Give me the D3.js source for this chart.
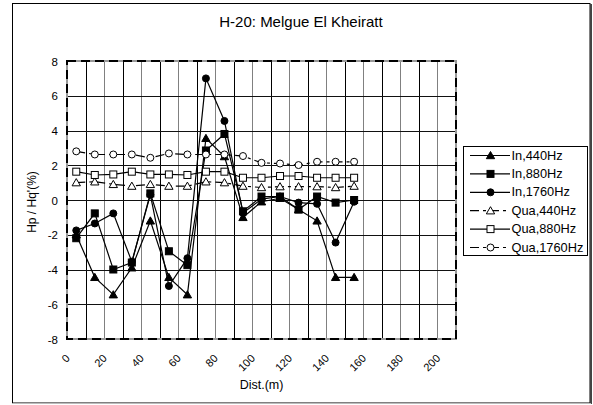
<!DOCTYPE html>
<html><head><meta charset="utf-8">
<script src="https://cdn.jsdelivr.net/npm/d3@7"></script>
<style>body{margin:0;background:#fff;} text{font-family:"Liberation Sans",Arial,sans-serif;fill:#000;}</style>
</head><body>
<svg id="c" width="593" height="405"></svg>
<script>
const dist = [5,15,25,35,45,55,65,75,85,95,105,115,125,135,145,155];
const in440  = [-2.0,-4.45,-5.45,-3.9,-1.2,-4.45,-5.45,3.55,2.5,-1.0,-0.1,0.1,-0.55,-1.2,-4.45,-4.45];
const in880  = [-2.2,-0.77,-4.0,-3.6,0.38,-2.95,-3.75,2.85,3.8,-0.65,0.2,0.2,-0.55,0.2,-0.15,0.0];
const in1760 = [-1.75,-1.35,-0.77,-3.55,0.3,-4.95,-3.35,7.0,4.55,-0.75,0.05,0.2,-0.15,-0.22,-2.45,-0.1];
const qua440 = [1.0,1.05,0.9,0.8,0.9,0.8,0.8,1.05,1.0,0.8,0.72,0.77,0.77,0.77,0.72,0.8];
const qua880 = [1.63,1.44,1.47,1.63,1.47,1.47,1.44,1.63,1.63,1.28,1.28,1.38,1.38,1.28,1.28,1.28];
const qua1760= [2.8,2.62,2.62,2.62,2.43,2.68,2.62,2.62,2.62,2.53,2.14,2.1,2.01,2.2,2.2,2.2];
const seriesNames = ["In,440Hz","In,880Hz","In,1760Hz","Qua,440Hz","Qua,880Hz","Qua,1760Hz"];
const xTicks = [0,20,40,60,80,100,120,140,160,180,200];
const yTicks = [-8,-6,-4,-2,0,2,4,6,8];
const title = "H-20: Melgue El Kheiratt";
const xTitle = "Dist.(m)";
const yTitle = "Hp / Hq'(%)";

const series = [
  {name:seriesNames[0], vals:in440,  shape:"tri", fill:"#000", dash:null},
  {name:seriesNames[1], vals:in880,  shape:"sq",  fill:"#000", dash:null},
  {name:seriesNames[2], vals:in1760, shape:"cir", fill:"#000", dash:null},
  {name:seriesNames[3], vals:qua440, shape:"tri", fill:"#fff", dash:"9,4,3,4"},
  {name:seriesNames[4], vals:qua880, shape:"sq",  fill:"#fff", dash:null},
  {name:seriesNames[5], vals:qua1760,shape:"cir", fill:"#fff", dash:"9,4,3,4"}
];

const svg = d3.select("#c");
const L=67, R=456, T=61, B=339;
const x = d3.scaleLinear().domain([0,210]).range([L,R]);
const y = d3.scaleLinear().domain([-8,8]).range([B,T]);

// outer frame
svg.append("rect").attr("x",12.5).attr("y",3.5).attr("width",577.5).attr("height",399.5)
  .attr("fill","none").attr("stroke","#000").attr("stroke-width",1);
svg.append("line").attr("x1",591).attr("x2",591).attr("y1",4).attr("y2",404).attr("stroke","#444").attr("stroke-width",2);
svg.append("line").attr("x1",12).attr("x2",591).attr("y1",403.5).attr("y2",403.5).attr("stroke","#bbb").attr("stroke-width",1);

// title
svg.append("text").attr("x",301).attr("y",26.5).attr("text-anchor","middle").attr("font-size",15).text(title);

// gridlines
const g = svg.append("g");
d3.range(10,210,10).forEach(v=>{
  const xv = Math.round(x(v))+0.5;
  g.append("line").attr("x1",xv).attr("x2",xv).attr("y1",T).attr("y2",B)
   .attr("stroke", (v/10)%2===1 ? "#000" : "#808080").attr("stroke-width",1);
});
yTicks.forEach(v=>{
  if (v===-8||v===8) return;
  const yv = Math.round(y(v))+0.5;
  g.append("line").attr("x1",L).attr("x2",R).attr("y1",yv).attr("y2",yv).attr("stroke","#111").attr("stroke-width",1);
});
// plot border
svg.append("rect").attr("x",L).attr("y",T).attr("width",R-L).attr("height",B-T)
  .attr("fill","none").attr("stroke","#999").attr("stroke-width",2);
svg.append("rect").attr("x",L).attr("y",T).attr("width",R-L).attr("height",B-T)
  .attr("fill","none").attr("stroke","#000").attr("stroke-width",2).attr("stroke-dasharray","9,5");

// axes (labels only via d3 axes)
const yAxis = d3.axisLeft(y).tickValues(yTicks).tickSize(0).tickPadding(9).tickFormat(d=>String(d).replace("−","-"));
const ya = svg.append("g").attr("transform",`translate(${L},0)`).call(yAxis);
ya.select(".domain").remove();
ya.selectAll("text").attr("font-size",11.5).attr("font-family","Liberation Sans, Arial, sans-serif").attr("fill","#000").attr("dy","0.36em");

const xAxis = d3.axisBottom(x).tickValues(xTicks).tickSize(0).tickFormat(d=>String(d));
const xa = svg.append("g").attr("transform",`translate(0,${B})`).call(xAxis);
xa.select(".domain").remove();
xa.selectAll("text").attr("font-size",11).attr("font-family","Liberation Sans, Arial, sans-serif").attr("fill","#000")
  .attr("text-anchor","end").attr("dy",null).attr("y",null)
  .attr("transform","translate(3,20) rotate(-45)");

svg.append("text").attr("x",(L+R)/2).attr("y",389).attr("text-anchor","middle").attr("font-size",12.5).text(xTitle);
svg.append("text").attr("transform","translate(36,202) rotate(-90)").attr("text-anchor","middle").attr("font-size",12).text(yTitle);

// markers
function marker(sel, shape, fill, cx, cy){
  if (shape==="tri"){
    sel.append("path").attr("d",d3.symbol().type(d3.symbolTriangle).size(30)())
      .attr("transform",`translate(${cx},${cy+0.8})`).attr("fill",fill).attr("stroke","#000").attr("stroke-width",1);
  } else if (shape==="sq"){
    sel.append("rect").attr("x",cx-3.5).attr("y",cy-3.5).attr("width",7).attr("height",7).attr("fill",fill).attr("stroke","#000").attr("stroke-width",1);
  } else {
    sel.append("circle").attr("cx",cx).attr("cy",cy).attr("r",3.5).attr("fill",fill).attr("stroke","#000").attr("stroke-width",1);
  }
}

const line = d3.line().x((d,i)=>x(dist[i])).y(d=>y(d));
series.forEach(s=>{
  const sg = svg.append("g");
  sg.append("path").attr("d",line(s.vals)).attr("fill","none").attr("stroke","#000").attr("stroke-width",1.2)
    .attr("stroke-dasharray",s.dash);
  s.vals.forEach((v,i)=>marker(sg, s.shape, s.fill, x(dist[i]), y(v)));
});

// legend
const lg = svg.append("g");
lg.append("rect").attr("x",463.5).attr("y",146.5).attr("width",124).attr("height",109).attr("fill","#fff").attr("stroke","#000").attr("stroke-width",1);
series.forEach((s,i)=>{
  const yy = 155.5 + i*18.4;
  lg.append("line").attr("x1",470).attr("x2",510).attr("y1",yy).attr("y2",yy).attr("stroke","#000").attr("stroke-width",1.2).attr("stroke-dasharray",s.dash);
  marker(lg, s.shape, s.fill, 490.5, yy);
  lg.append("text").attr("x",511.5).attr("y",yy+4).attr("font-size",12.8).text(s.name);
});
</script>
</body></html>
